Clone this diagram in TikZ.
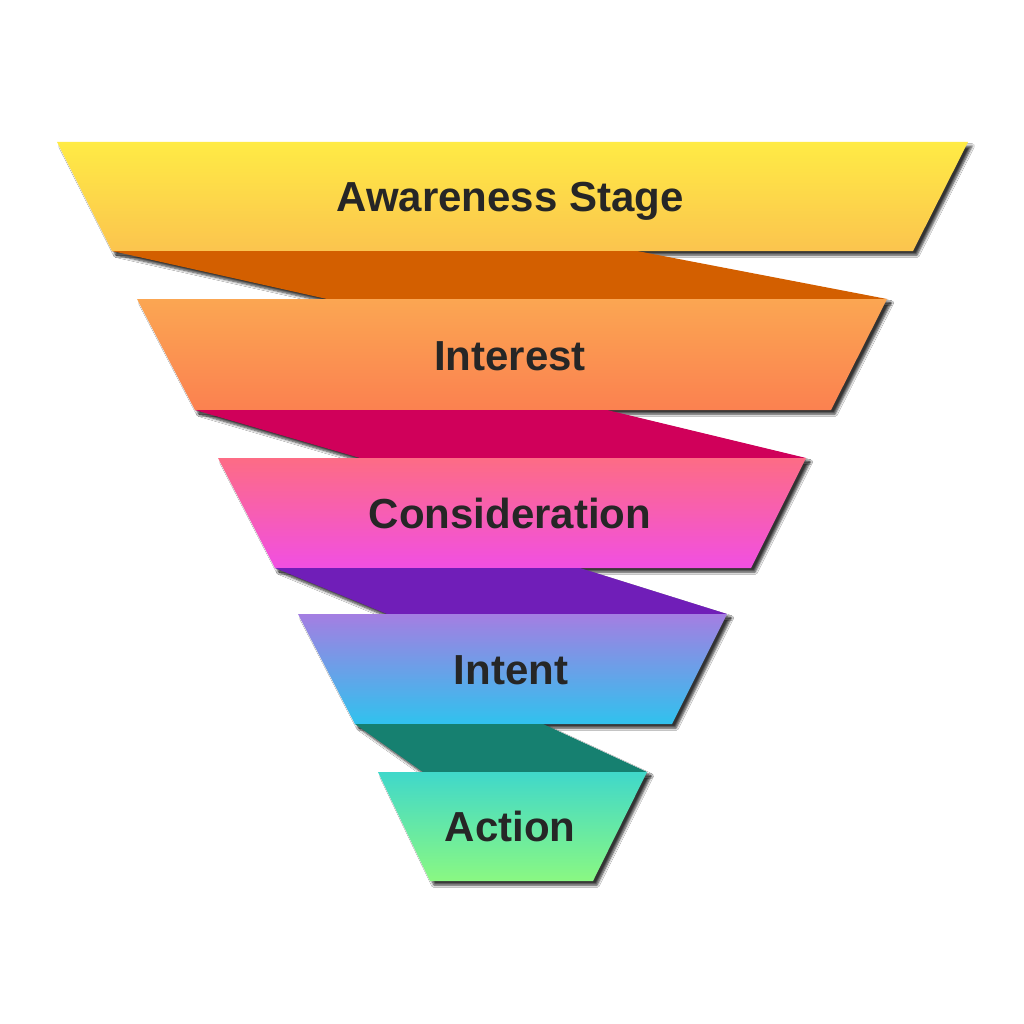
\documentclass[tikz,border=0pt]{standalone}
\usepackage{fontspec}
\setmainfont{Liberation Sans}
\usetikzlibrary{shadows.blur}
\definecolor{txt}{HTML}{262626}
\definecolor{bOneT}{HTML}{FFEB45}
\definecolor{bOneB}{HTML}{FBC44E}
\definecolor{bTwoT}{HTML}{FBA652}
\definecolor{bTwoB}{HTML}{FB8150}
\definecolor{bThreeT}{HTML}{FD6C85}
\definecolor{bThreeB}{HTML}{F14FE2}
\definecolor{bFourT}{HTML}{A47EE2}
\definecolor{bFourB}{HTML}{30C2EE}
\definecolor{bFiveT}{HTML}{40D8CA}
\definecolor{bFiveB}{HTML}{8AF882}
\definecolor{rOne}{HTML}{D35F00}
\definecolor{rTwo}{HTML}{D0005A}
\definecolor{rThree}{HTML}{701EB8}
\definecolor{rFour}{HTML}{168070}
\tikzset{
  shad/.style={blur shadow={shadow xshift=4pt, shadow yshift=-4pt, shadow blur steps=6, shadow blur radius=2.5pt, shadow opacity=80}},
  lbl/.style={anchor=base, text=txt, font=\fontsize{42}{50}\selectfont\bfseries, inner sep=0pt},
}
\begin{document}
\begin{tikzpicture}[x=1pt,y=-1pt]
\fill[white] (0,0) rectangle (1024,1024);
\useasboundingbox (0,0) rectangle (1024,1024);
% band 1
\shade[shad, top color=bOneT, bottom color=bOneB] (57,142) -- (968,142) -- (913,251) -- (112,251) -- cycle;
\fill[shad, rOne] (112,251) -- (637,251) -- (887,299) -- (327,299) -- cycle;
% band 2
\shade[shad, top color=bTwoT, bottom color=bTwoB] (137,299) -- (887,299) -- (831,410) -- (195,410) -- cycle;
\fill[shad, rTwo] (195,410) -- (607,410) -- (806,458) -- (360,458) -- cycle;
% band 3
\shade[shad, top color=bThreeT, bottom color=bThreeB] (218,458) -- (806,458) -- (751,568) -- (275,568) -- cycle;
\fill[shad, rThree] (275,568) -- (580,568) -- (727,614) -- (387,614) -- cycle;
% band 4
\shade[shad, top color=bFourT, bottom color=bFourB] (298,614) -- (727,614) -- (672,724) -- (355,724) -- cycle;
\fill[shad, rFour] (355,724) -- (543,724) -- (647,772) -- (423,772) -- cycle;
% band 5
\shade[shad, top color=bFiveT, bottom color=bFiveB] (378,772) -- (647,772) -- (593,881) -- (430,881) -- cycle;
% labels
\node[lbl] (t1) at (510,212) {Awareness Stage};
\node[lbl] (t2) at (510,370) {Interest};
\node[lbl] (t3) at (510,528) {Consideration};
\node[lbl] (t4) at (511,684) {Intent};
\node[lbl] (t5) at (510,841) {Action};
\end{tikzpicture}
\end{document}
